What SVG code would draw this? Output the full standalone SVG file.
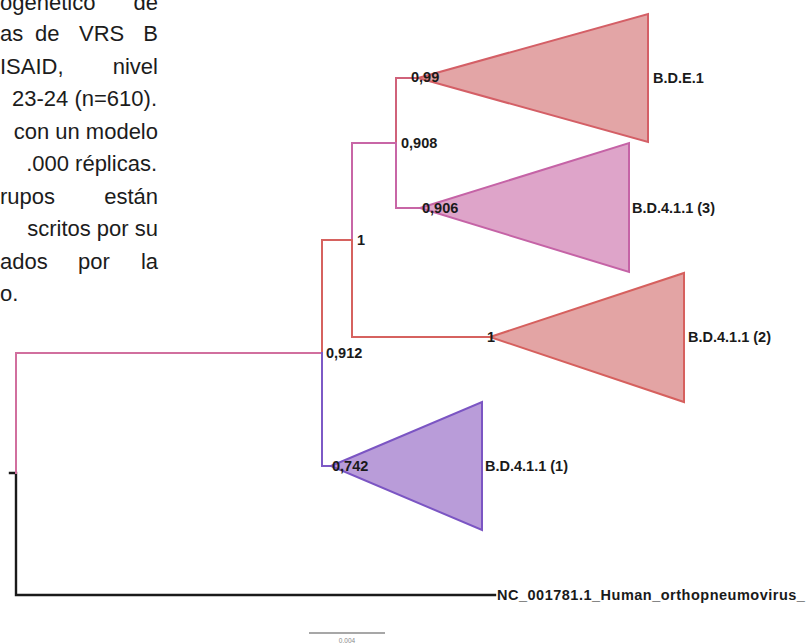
<svg xmlns="http://www.w3.org/2000/svg" width="810" height="644" viewBox="0 0 810 644">
  <style>
    .caption { font-family: "Liberation Sans", Arial, sans-serif; font-size: 22px; fill: #1c1c1c; }
    .lbl { font-family: "Liberation Sans", Arial, sans-serif; font-size: 14.5px; font-weight: bold; fill: #1a1a1a; }
    .br { fill: none; stroke-width: 2; stroke-linecap: square; }
    .red { stroke: #d6625f; }
    .rose { stroke: #d0627a; }
    .pink { stroke: #c866a6; }
    .mauve { stroke: #d16f9e; }
    .purple { stroke: #7d59c6; }
    .black { stroke: #1a1a1a; stroke-width: 2.4; }
    .clade-red { fill: #e3a5a6; stroke: #d45f66; stroke-width: 2; }
    .clade-pink { fill: #dea4c9; stroke: #c563a6; stroke-width: 2; }
    .clade-red2 { fill: #e3a4a4; stroke: #d6605e; stroke-width: 2; }
    .clade-purple { fill: #b99cd9; stroke: #7b55c3; stroke-width: 2; }
  </style>

  <rect width="810" height="644" fill="#ffffff"/>

  <!-- caption text: justified column running off the left edge -->
  <g id="caption" class="caption">
    <text x="0" y="10">ogenético</text>
    <text x="158" y="10" text-anchor="end">de</text>
    <text x="0" y="41">as</text>
    <text x="35" y="41">de</text>
    <text x="79" y="41">VRS</text>
    <text x="158" y="41" text-anchor="end">B</text>
    <text x="0" y="73.5">ISAID,</text>
    <text x="158" y="73.5" text-anchor="end">nivel</text>
    <text x="157" y="106" text-anchor="end">23-24 (n=610).</text>
    <text x="158" y="138.5" text-anchor="end">con un modelo</text>
    <text x="157" y="171" text-anchor="end">.000 réplicas.</text>
    <text x="0" y="203.5">rupos</text>
    <text x="158" y="203.5" text-anchor="end">están</text>
    <text x="158" y="236" text-anchor="end">scritos por su</text>
    <text x="0" y="268.5">ados</text>
    <text x="78" y="268.5">por</text>
    <text x="158" y="268.5" text-anchor="end">la</text>
    <text x="0" y="301">o.</text>
  </g>

  <!-- tree branches -->
  <g id="connectors">
    <!-- outgroup -->
    <path class="br black" d="M10 473 H16 V595 H495"/>
    <!-- ingroup stem -->
    <path class="br mauve" d="M16 473 V353 H322"/>
    <!-- node 0,912 -->
    <path class="br red" d="M322 353 V240 H352"/>
    <path class="br purple" d="M322 353 V466 H331"/>
    <!-- node 1 -->
    <path class="br pink" d="M352 240 V143 H396"/>
    <path class="br red" d="M352 240 V337 H490"/>
    <!-- node 0,908 -->
    <path class="br rose" d="M396 143 V78 H418"/>
    <path class="br pink" d="M396 143 V208 H420"/>
  </g>

  <!-- collapsed clades -->
  <g id="clade-BDE1">
    <polygon class="clade-red" points="418,78 648,14 648,142"/>
    <text class="lbl" x="653" y="83">B.D.E.1</text>
  </g>
  <g id="clade-BD411-3">
    <polygon class="clade-pink" points="420,208 629,143 629,272"/>
    <text class="lbl" x="632" y="213">B.D.4.1.1 (3)</text>
  </g>
  <g id="clade-BD411-2">
    <polygon class="clade-red2" points="490,337 684,273 684,402"/>
    <text class="lbl" x="688" y="342">B.D.4.1.1 (2)</text>
  </g>
  <g id="clade-BD411-1">
    <polygon class="clade-purple" points="331,466 482,402 482,530"/>
    <text class="lbl" x="485" y="471">B.D.4.1.1 (1)</text>
  </g>
  <g id="outgroup">
    <text class="lbl" x="497" y="600" letter-spacing="0.5">NC_001781.1_Human_orthopneumovirus_</text>
  </g>

  <!-- support values -->
  <g id="supports" class="lbl">
    <text x="411" y="82">0,99</text>
    <text x="401" y="148">0,908</text>
    <text x="422" y="213">0,906</text>
    <text x="357" y="245">1</text>
    <text x="487" y="342">1</text>
    <text x="326" y="358">0,912</text>
    <text x="332" y="471">0,742</text>
  </g>

  <!-- scale bar -->
  <g id="scale">
    <line x1="309" y1="633" x2="385" y2="633" stroke="#8a8a8a" stroke-width="1.6"/>
    <text x="347" y="643" text-anchor="middle" font-family="Liberation Sans, Arial, sans-serif" font-size="6.5" fill="#8a8a8a">0.004</text>
  </g>
</svg>
